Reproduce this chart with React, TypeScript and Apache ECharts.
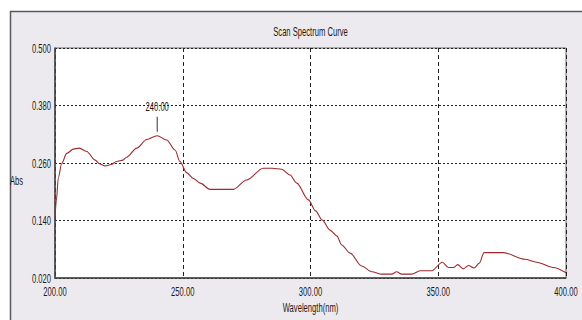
import React, { useEffect, useRef } from "react";
import * as echarts from "echarts";

const wavelengths = [
  200, 200.5, 201.3, 202.6, 204.6, 207.2, 209.5, 212.4, 215.7, 217.6, 219.6, 222, 224.1, 226.6, 228,
  232, 235.9, 240, 243.7, 247, 248.9, 251.5, 254.1, 256.8, 260.7, 265, 269.8, 275, 281.5, 285,
  288.7, 292, 294.6, 299.2, 302, 304.6, 307.6, 310.3, 312.2, 315.5, 320, 324, 327.9, 331.8, 333.7,
  335.7, 339.6, 342.9, 347.4, 351.6, 354, 356, 357.6, 359.8, 361.8, 364, 366.1, 367.9, 375.5,
  384, 388.5, 395, 400,
];
const absorbance = [
  0.145, 0.18, 0.229, 0.259, 0.28, 0.289, 0.291, 0.284, 0.266, 0.258, 0.254, 0.257, 0.263, 0.266, 0.272,
  0.291, 0.309, 0.317, 0.308, 0.287, 0.263, 0.24, 0.228, 0.218, 0.205, 0.205, 0.205, 0.2245, 0.249, 0.249,
  0.247, 0.235, 0.218, 0.183, 0.16, 0.141, 0.12, 0.108, 0.089, 0.072, 0.045, 0.033, 0.028, 0.028, 0.033,
  0.028, 0.028, 0.035, 0.035, 0.053, 0.042, 0.042, 0.048, 0.039, 0.046, 0.041, 0.051, 0.073, 0.073,
  0.059, 0.053, 0.042, 0.031,
];
const peakWavelength = 240;
const peakAbs = 0.317;
const yTicks = [0.02, 0.14, 0.26, 0.38, 0.5];
const xTicks = [200, 250, 300, 350, 400];
const titleText = "Scan Spectrum Curve";
const xName = "Wavelength(nm)";
const yName = "Abs";

const FONT = "12.5px 'Liberation Sans', Arial, sans-serif";
const SX = 0.61;
const TEXT_COLOR = "#1a1a1a";

export default function App() {
  const ref = useRef<HTMLDivElement>(null);
  useEffect(() => {
    if (!ref.current) return;
    const chart = echarts.init(ref.current, undefined, { renderer: "svg" });
    const data = wavelengths.map((w, i) => [w, absorbance[i]]);
    chart.setOption({
      animation: false,
      backgroundColor: "#ffffff",
      grid: {
        left: 55,
        top: 48,
        right: 16,
        bottom: 42,
        show: true,
        backgroundColor: "#ffffff",
        borderColor: "#666",
        borderWidth: 1,
      },
      xAxis: {
        type: "value",
        min: xTicks[0],
        max: xTicks[xTicks.length - 1],
        interval: 50,
        axisLine: { show: true, lineStyle: { color: "#444", width: 1.5 } },
        axisTick: { show: false },
        axisLabel: { show: false },
        splitLine: { show: true, lineStyle: { color: "#222", type: [4, 3], width: 1 } },
      },
      yAxis: {
        type: "value",
        min: yTicks[0],
        max: yTicks[yTicks.length - 1],
        interval: 0.12,
        axisLine: { show: true, lineStyle: { color: "#444", width: 1.5 } },
        axisTick: { show: false },
        axisLabel: { show: false },
        splitLine: { show: true, lineStyle: { color: "#222", type: [2, 2], width: 1 } },
      },
      series: [
        {
          type: "line",
          data,
          symbol: "none",
          smooth: 0.3,
          smoothMonotone: "x",
          lineStyle: { color: "#A0292B", width: 1.1 },
          markPoint: {
            silent: true,
            symbol: "rect",
            symbolSize: [1, 15],
            symbolOffset: [0, -11.5],
            itemStyle: { color: "#333" },
            label: { show: false },
            data: [{ coord: [peakWavelength, peakAbs] }],
          },
        },
      ],
    });

    const toPx = (x: number, y: number) =>
      chart.convertToPixel({ gridIndex: 0 } as any, [x, y]) as number[];
    const [left, bottom] = toPx(xTicks[0], yTicks[0]);
    const [right, top] = toPx(xTicks[xTicks.length - 1], yTicks[yTicks.length - 1]);
    const mid = (left + right) / 2;
    const txt = (text: string, x: number, y: number, align: string) => ({
      type: "text",
      x,
      y,
      scaleX: SX,
      silent: true,
      style: { text, font: FONT, fill: TEXT_COLOR, align, verticalAlign: "middle" },
    });
    const peak = toPx(peakWavelength, peakAbs);

    chart.setOption({
      graphic: [
        {
          type: "rect",
          z: -10,
          silent: true,
          shape: { x: 10.5, y: 11.5, width: 600, height: 400 },
          style: { fill: "#ECEAEF", stroke: "#5a5a5a", lineWidth: 1.5 },
        },
        txt(titleText, mid, top - 16.5, "center"),
        txt(yName, 10, 181, "left"),
        txt(xName, mid, bottom + 30, "center"),
        ...yTicks.map((v) => {
          const p = toPx(xTicks[0], v);
          return txt(v.toFixed(3), left - 4, p[1] + 0.5, "right");
        }),
        ...xTicks.map((v) => {
          const p = toPx(v, yTicks[0]);
          return txt(v.toFixed(2), p[0], bottom + 14, "center");
        }),
        txt(peakWavelength.toFixed(2), peak[0], peak[1] - 29, "center"),
      ],
    });
    return () => chart.dispose();
  }, []);
  return (
    <div
      ref={ref}
      style={{ position: "fixed", left: 0, top: 0, width: 582, height: 320, background: "#fff" }}
    />
  );
}
